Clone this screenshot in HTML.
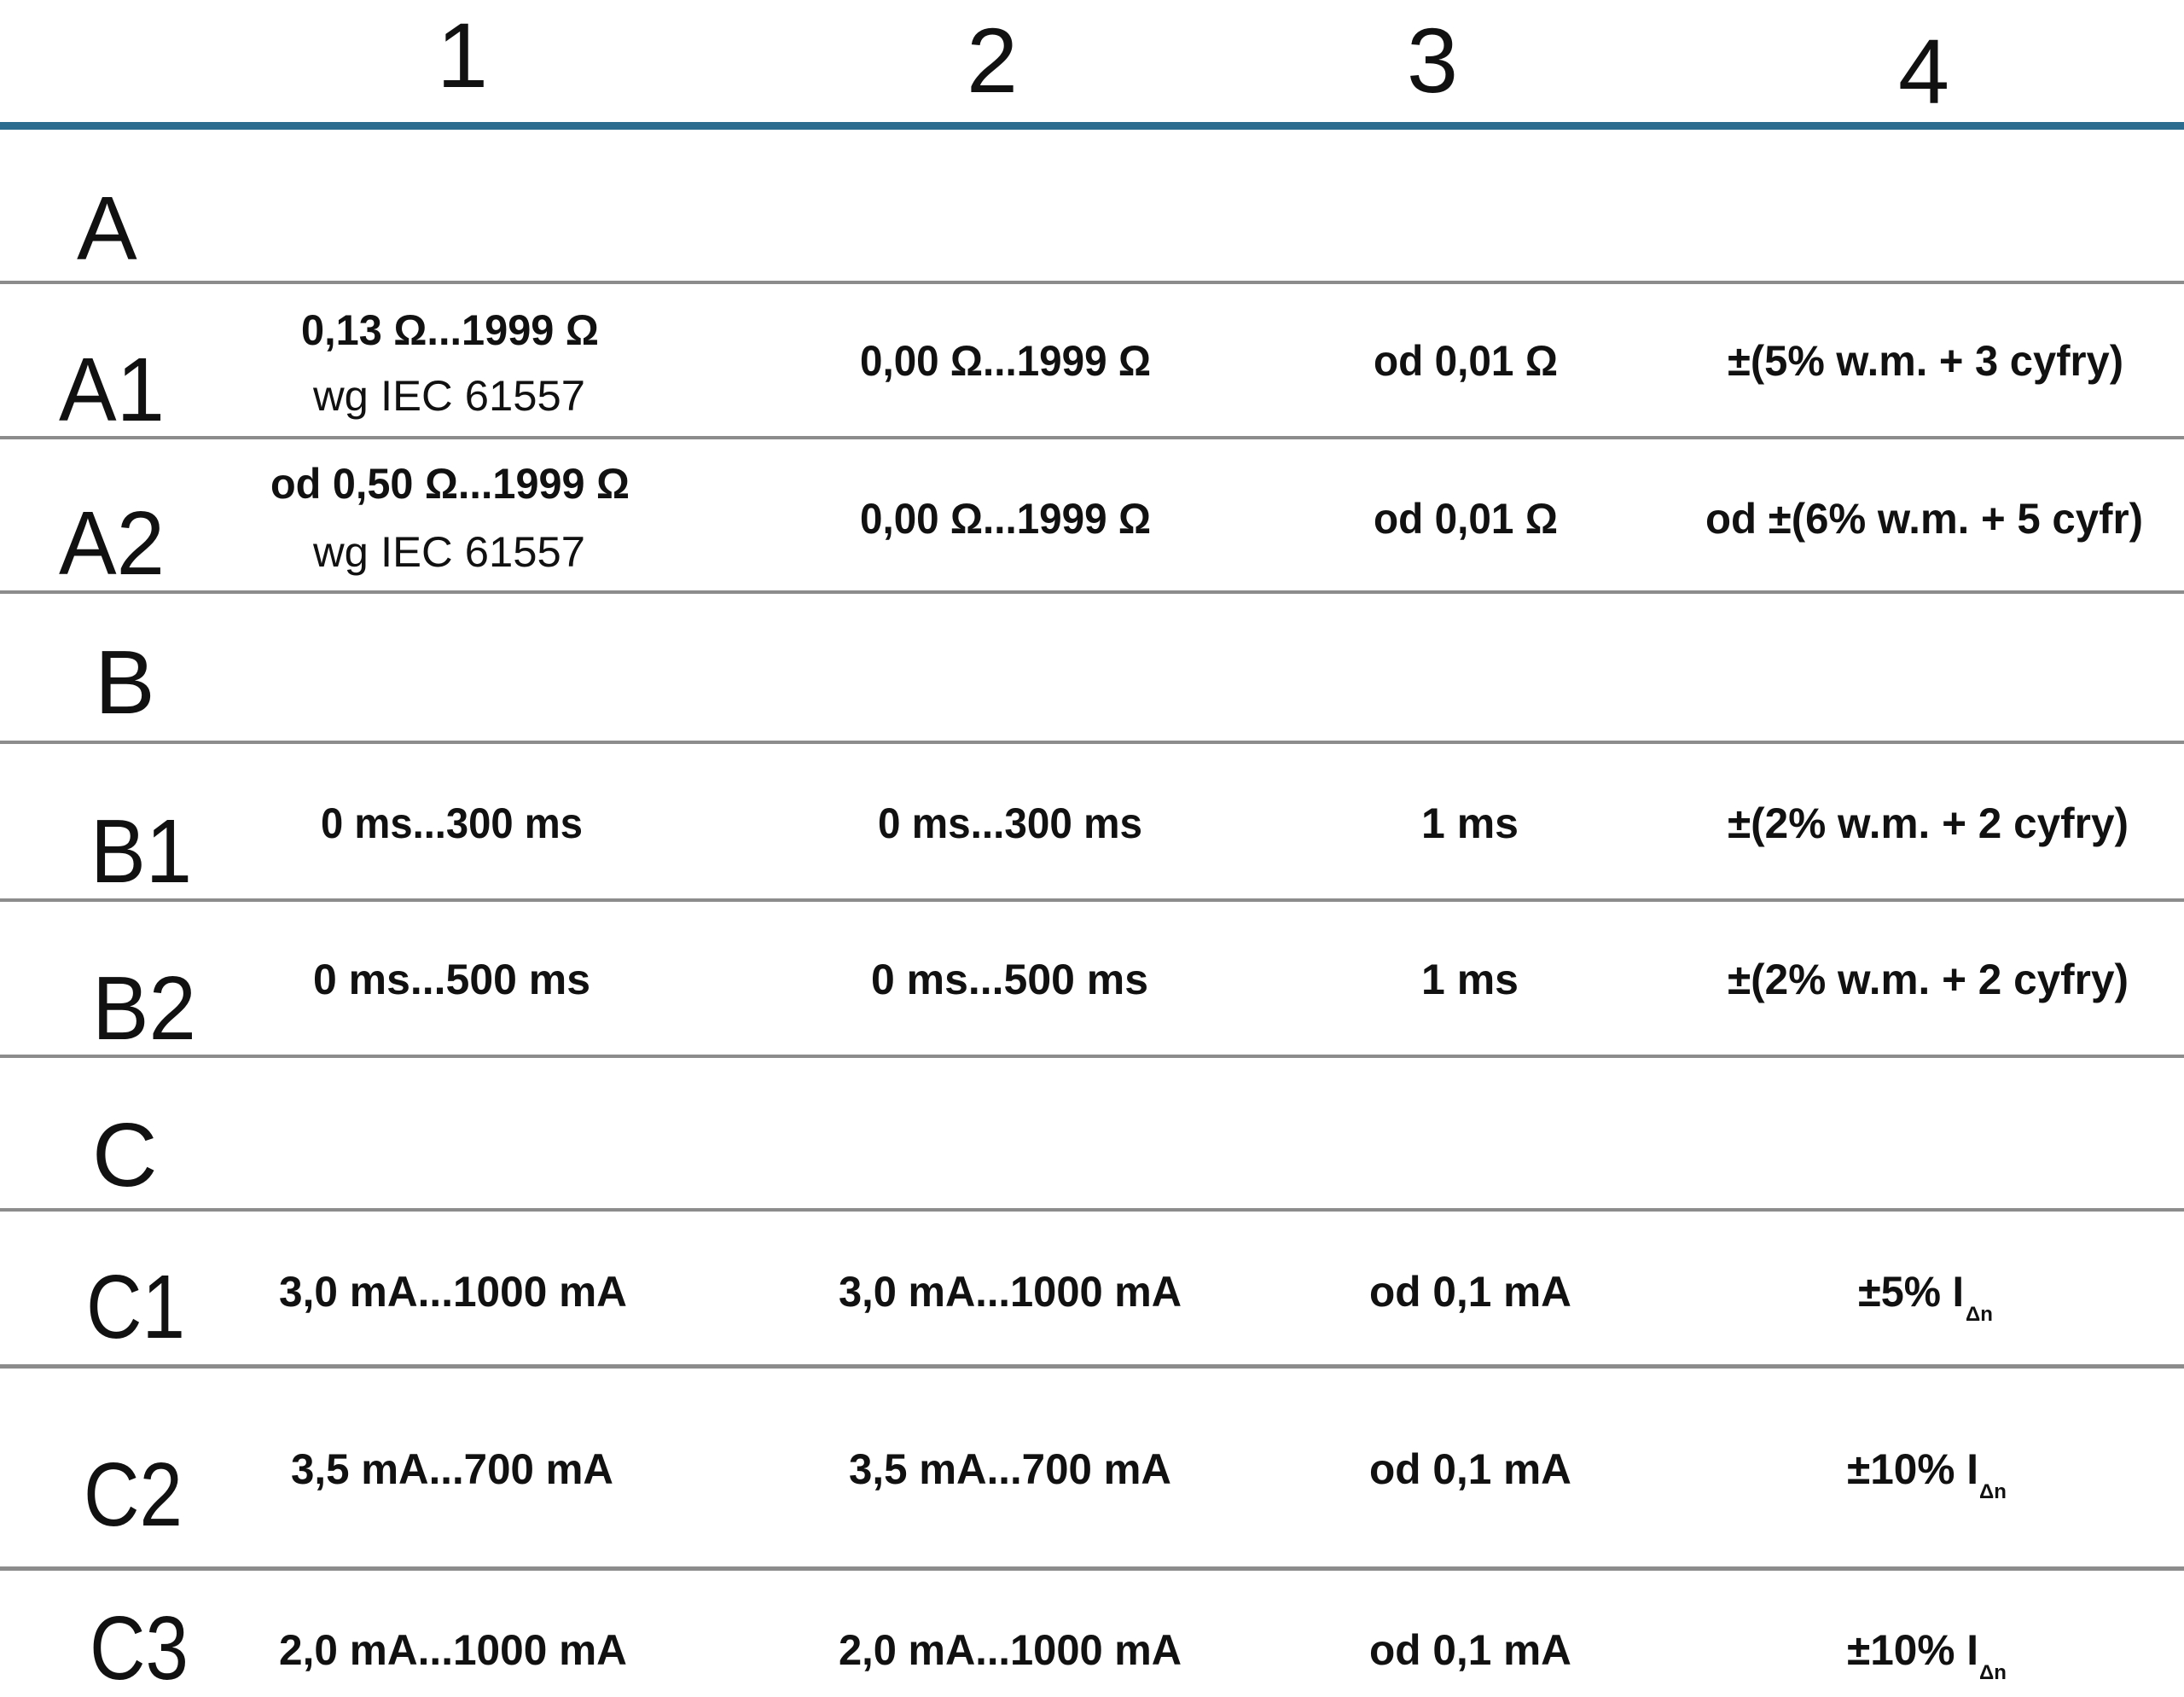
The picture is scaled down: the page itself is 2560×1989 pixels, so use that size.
<!DOCTYPE html>
<html><head><meta charset="utf-8"><style>
html,body{margin:0;padding:0;background:#fff;}
svg{display:block;}
text{font-family:"Liberation Sans",sans-serif;fill:#111;}
.c{font-size:50px;font-weight:bold;}
.l{font-size:106px;}
.h{font-size:108px;}
</style></head><body>
<svg width="2560" height="1989" viewBox="0 0 2560 1989" xmlns="http://www.w3.org/2000/svg">
<rect width="2560" height="1989" fill="#fff"/>
<!-- header -->
<text class="h" x="542" y="102" text-anchor="middle">1</text>
<text class="h" x="1163" y="108" text-anchor="middle">2</text>
<text class="h" x="1679" y="108" text-anchor="middle">3</text>
<text class="h" x="2255" y="121" text-anchor="middle">4</text>
<rect x="0" y="143" width="2560" height="9" fill="#2c6d8f"/>
<!-- grid lines -->
<g fill="#8c8c8c">
<rect x="0" y="329" width="2560" height="4"/>
<rect x="0" y="511" width="2560" height="4"/>
<rect x="0" y="692" width="2560" height="4"/>
<rect x="0" y="868" width="2560" height="4"/>
<rect x="0" y="1053" width="2560" height="4"/>
<rect x="0" y="1236" width="2560" height="4"/>
<rect x="0" y="1416" width="2560" height="4"/>
<rect x="0" y="1599" width="2560" height="5"/>
<rect x="0" y="1836" width="2560" height="5"/>
</g>
<!-- labels -->
<text class="l" x="90" y="304">A</text>
<text class="l" x="69" y="493" textLength="124" lengthAdjust="spacingAndGlyphs">A1</text>
<text class="l" x="69" y="673" textLength="124" lengthAdjust="spacingAndGlyphs">A2</text>
<text class="l" x="111" y="836">B</text>
<text class="l" x="106" y="1034" textLength="119" lengthAdjust="spacingAndGlyphs">B1</text>
<text class="l" x="108" y="1218" textLength="122" lengthAdjust="spacingAndGlyphs">B2</text>
<text class="l" x="108" y="1390">C</text>
<text class="l" x="101" y="1568" textLength="116" lengthAdjust="spacingAndGlyphs">C1</text>
<text class="l" x="98" y="1788" textLength="116" lengthAdjust="spacingAndGlyphs">C2</text>
<text class="l" x="105" y="1968" textLength="116" lengthAdjust="spacingAndGlyphs">C3</text>
<!-- A1 -->
<text class="c" x="353" y="404" textLength="349" lengthAdjust="spacingAndGlyphs">0,13 Ω...1999 Ω</text>
<text class="c" x="367" y="481" textLength="319" lengthAdjust="spacingAndGlyphs" style="font-weight:normal">wg IEC 61557</text>
<text class="c" x="1008" y="440" textLength="341" lengthAdjust="spacingAndGlyphs">0,00 Ω...1999 Ω</text>
<text class="c" x="1610" y="440" textLength="216" lengthAdjust="spacingAndGlyphs">od 0,01 Ω</text>
<text class="c" x="2025" y="440" textLength="464" lengthAdjust="spacingAndGlyphs">±(5% w.m. + 3 cyfry)</text>
<!-- A2 -->
<text class="c" x="317" y="584" textLength="421" lengthAdjust="spacingAndGlyphs">od 0,50 Ω...1999 Ω</text>
<text class="c" x="367" y="664" textLength="319" lengthAdjust="spacingAndGlyphs" style="font-weight:normal">wg IEC 61557</text>
<text class="c" x="1008" y="625" textLength="341" lengthAdjust="spacingAndGlyphs">0,00 Ω...1999 Ω</text>
<text class="c" x="1610" y="625" textLength="216" lengthAdjust="spacingAndGlyphs">od 0,01 Ω</text>
<text class="c" x="1999" y="625" textLength="513" lengthAdjust="spacingAndGlyphs">od ±(6% w.m. + 5 cyfr)</text>
<!-- B1 -->
<text class="c" x="376" y="982" textLength="307" lengthAdjust="spacingAndGlyphs">0 ms...300 ms</text>
<text class="c" x="1029" y="982" textLength="310" lengthAdjust="spacingAndGlyphs">0 ms...300 ms</text>
<text class="c" x="1666" y="982" textLength="114" lengthAdjust="spacingAndGlyphs">1 ms</text>
<text class="c" x="2025" y="982" textLength="470" lengthAdjust="spacingAndGlyphs">±(2% w.m. + 2 cyfry)</text>
<!-- B2 -->
<text class="c" x="367" y="1165" textLength="325" lengthAdjust="spacingAndGlyphs">0 ms...500 ms</text>
<text class="c" x="1021" y="1165" textLength="325" lengthAdjust="spacingAndGlyphs">0 ms...500 ms</text>
<text class="c" x="1666" y="1165" textLength="114" lengthAdjust="spacingAndGlyphs">1 ms</text>
<text class="c" x="2025" y="1165" textLength="470" lengthAdjust="spacingAndGlyphs">±(2% w.m. + 2 cyfry)</text>
<!-- C1 -->
<text class="c" x="327" y="1531" textLength="408" lengthAdjust="spacingAndGlyphs">3,0 mA...1000 mA</text>
<text class="c" x="983" y="1531" textLength="402" lengthAdjust="spacingAndGlyphs">3,0 mA...1000 mA</text>
<text class="c" x="1605" y="1531" textLength="237" lengthAdjust="spacingAndGlyphs">od 0,1 mA</text>
<text class="c" x="2178" y="1531" textLength="124" lengthAdjust="spacingAndGlyphs">±5% I</text>
<text x="2304" y="1548" style="font-size:24px;font-weight:bold">Δn</text>
<!-- C2 -->
<text class="c" x="341" y="1739" textLength="378" lengthAdjust="spacingAndGlyphs">3,5 mA...700 mA</text>
<text class="c" x="995" y="1739" textLength="378" lengthAdjust="spacingAndGlyphs">3,5 mA...700 mA</text>
<text class="c" x="1605" y="1739" textLength="237" lengthAdjust="spacingAndGlyphs">od 0,1 mA</text>
<text class="c" x="2165" y="1739" textLength="154" lengthAdjust="spacingAndGlyphs">±10% I</text>
<text x="2320" y="1756" style="font-size:24px;font-weight:bold">Δn</text>
<!-- C3 -->
<text class="c" x="327" y="1951" textLength="408" lengthAdjust="spacingAndGlyphs">2,0 mA...1000 mA</text>
<text class="c" x="983" y="1951" textLength="402" lengthAdjust="spacingAndGlyphs">2,0 mA...1000 mA</text>
<text class="c" x="1605" y="1951" textLength="237" lengthAdjust="spacingAndGlyphs">od 0,1 mA</text>
<text class="c" x="2165" y="1951" textLength="154" lengthAdjust="spacingAndGlyphs">±10% I</text>
<text x="2320" y="1968" style="font-size:24px;font-weight:bold">Δn</text>
</svg>
</body></html>
